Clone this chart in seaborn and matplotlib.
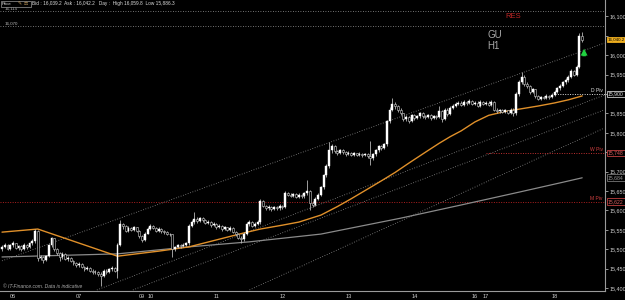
import matplotlib
matplotlib.use("Agg")
import matplotlib.pyplot as plt
import matplotlib.transforms as mtransforms
from matplotlib.patches import Rectangle
import numpy as np
import pandas as pd
import seaborn as sns

# ---------------- data (H1 candles, GBPUSD shown as x10000) ----------------
first_open = 15500
closes = [15505, 15512, 15500, 15510, 15515, 15503, 15508, 15500, 15512, 15505,
          15515, 15520, 15548, 15478, 15480, 15472, 15482, 15510, 15528, 15500,
          15490, 15480, 15488, 15475, 15478, 15470, 15465, 15460, 15462, 15455,
          15450, 15452, 15445, 15440, 15442, 15436, 15430, 15445, 15440, 15448,
          15452, 15445, 15512, 15565, 15560, 15548, 15555, 15550, 15556, 15548,
          15535, 15525, 15540, 15552, 15560, 15555, 15548, 15552, 15546, 15545,
          15540, 15538, 15500, 15505, 15510, 15508, 15512, 15515, 15560, 15570,
          15578, 15572, 15580, 15575, 15568, 15570, 15562, 15565, 15557, 15560,
          15552, 15556, 15550, 15555, 15545, 15538, 15530, 15526, 15540, 15565,
          15570, 15560, 15565, 15570, 15625, 15612, 15605, 15610, 15603, 15608,
          15605, 15612, 15608, 15645, 15640, 15638, 15642, 15635, 15640, 15636,
          15644, 15650, 15620, 15615, 15630, 15640, 15660, 15690, 15715, 15755,
          15765, 15752, 15748, 15755, 15750, 15745, 15748, 15744, 15747, 15743,
          15746, 15742, 15745, 15740, 15735, 15745, 15755, 15765, 15760, 15770,
          15830, 15860, 15875, 15868, 15860, 15850, 15835, 15840, 15830, 15845,
          15838, 15842, 15850, 15843, 15840, 15845, 15838, 15842, 15840, 15855,
          15835, 15860, 15848, 15865, 15870, 15875, 15878, 15872, 15880, 15876,
          15882, 15875, 15878, 15870, 15880, 15875, 15878, 15872, 15880, 15860,
          15855, 15858, 15854, 15858, 15852, 15860, 15850, 15900, 15930, 15945,
          15925, 15920, 15905, 15912, 15895, 15888, 15892, 15890, 15895, 15892,
          15898, 15905, 15915, 15920, 15930, 15935, 15945, 15960, 15950, 15970,
          16050, 16040]
highs = [15512, 15516, 15514, 15513, 15520, 15517, 15512, 15510, 15516, 15514,
         15519, 15526, 15552, 15550, 15486, 15483, 15486, 15513, 15532, 15530,
         15503, 15493, 15492, 15490, 15482, 15480, 15473, 15468, 15466, 15465,
         15458, 15456, 15455, 15448, 15446, 15445, 15440, 15449, 15448, 15452,
         15456, 15455, 15516, 15575, 15568, 15562, 15559, 15558, 15560, 15558,
         15550, 15537, 15544, 15556, 15566, 15562, 15558, 15556, 15554, 15550,
         15548, 15543, 15540, 15509, 15514, 15513, 15516, 15519, 15564, 15575,
         15596, 15582, 15584, 15583, 15578, 15574, 15572, 15569, 15567, 15564,
         15562, 15560, 15558, 15559, 15557, 15548, 15541, 15534, 15544, 15569,
         15576, 15573, 15569, 15575, 15630, 15628, 15615, 15614, 15612, 15612,
         15611, 15616, 15615, 15650, 15648, 15644, 15646, 15645, 15644, 15643,
         15648, 15678, 15652, 15624, 15634, 15644, 15664, 15694, 15720, 15775,
         15772, 15768, 15756, 15759, 15758, 15753, 15752, 15750, 15751, 15749,
         15750, 15748, 15749, 15747, 15780, 15749, 15759, 15769, 15768, 15774,
         15834, 15866, 15890, 15880, 15871, 15863, 15852, 15845, 15843, 15849,
         15848, 15846, 15854, 15853, 15846, 15849, 15848, 15846, 15845, 15868,
         15858, 15864, 15863, 15869, 15875, 15880, 15883, 15881, 15884, 15883,
         15886, 15885, 15882, 15881, 15884, 15883, 15882, 15881, 15885, 15882,
         15863, 15862, 15861, 15862, 15860, 15864, 15863, 15904, 15935, 15957,
         15948, 15930, 15923, 15916, 15914, 15898, 15896, 15895, 15899, 15898,
         15902, 15909, 15919, 15925, 15934, 15940, 15949, 15965, 15963, 15974,
         16058, 16060]
lows = [15496, 15502, 15497, 15498, 15506, 15500, 15499, 15496, 15498, 15501,
        15503, 15512, 15516, 15470, 15472, 15465, 15469, 15479, 15505, 15496,
        15485, 15470, 15476, 15471, 15470, 15466, 15460, 15455, 15455, 15451,
        15445, 15446, 15441, 15436, 15435, 15431, 15405, 15428, 15436, 15438,
        15445, 15440, 15426, 15508, 15552, 15544, 15545, 15546, 15548, 15544,
        15530, 15518, 15522, 15538, 15550, 15551, 15544, 15545, 15542, 15540,
        15536, 15533, 15480, 15495, 15502, 15503, 15505, 15508, 15512, 15556,
        15566, 15568, 15570, 15571, 15564, 15565, 15558, 15559, 15553, 15554,
        15548, 15549, 15546, 15547, 15541, 15534, 15526, 15516, 15522, 15537,
        15561, 15556, 15557, 15562, 15566, 15608, 15600, 15601, 15599, 15600,
        15601, 15602, 15604, 15605, 15636, 15634, 15635, 15631, 15632, 15632,
        15633, 15640, 15600, 15608, 15612, 15627, 15637, 15656, 15686, 15710,
        15748, 15748, 15744, 15745, 15746, 15741, 15742, 15740, 15741, 15739,
        15740, 15738, 15739, 15736, 15717, 15731, 15741, 15751, 15755, 15757,
        15766, 15826, 15855, 15862, 15854, 15845, 15830, 15831, 15826, 15827,
        15834, 15835, 15839, 15839, 15836, 15837, 15834, 15835, 15836, 15837,
        15828, 15832, 15844, 15845, 15861, 15866, 15871, 15868, 15869, 15872,
        15873, 15871, 15871, 15866, 15867, 15871, 15872, 15868, 15869, 15856,
        15850, 15851, 15850, 15851, 15848, 15849, 15842, 15847, 15896, 15926,
        15920, 15915, 15900, 15902, 15890, 15884, 15885, 15886, 15887, 15888,
        15889, 15895, 15902, 15911, 15917, 15927, 15931, 15942, 15946, 15947,
        15966, 16035]

# moving averages, read at a few bars
ma_fast_bar = [0, 13, 42, 50, 57, 68, 78, 88, 94, 102, 108, 116, 122, 127, 132, 137,
               143, 148, 154, 159, 163, 167, 172, 177, 183, 189, 195, 201, 206, 211]
ma_fast_val = [15544, 15552, 15482, 15489, 15495, 15506, 15524, 15542, 15552, 15562,
               15570, 15588, 15610, 15630, 15651, 15672, 15698, 15722, 15750, 15773,
               15790, 15805, 15828, 15845, 15855, 15862, 15869, 15877, 15885, 15895]
ma_slow_bar = [0, 42, 68, 90, 116, 145, 167, 188, 203, 211]
ma_slow_val = [15480, 15488, 15506, 15519, 15539, 15580, 15614, 15647, 15671, 15684]

# channel lines (bar, price) -> (bar, price)
chan_start_bar = [0, 34.5, 47.6, 90]
chan_start_val = [15470, 15395, 15395, 15395]
chan_end_bar = [219, 219, 219, 219]
chan_end_val = [16031, 15897, 15859, 15812]

# pivots / levels
m_piv, w_piv, d_piv = 15622, 15748, 15900
w_piv_from, d_piv_from = 176, 201
top_levels = [16115, 16075]
top_level_labels = ["16,115", "16,070"]
grey_ma_label = "15,684"
last_price_label = "16,040.2"

day_pos = [4, 28, 51, 54, 78, 102, 126, 150, 172, 176, 201]
day_lbl = ["06", "07", "09", "10", "11", "12", "13", "14", "16", "17", "18"]
yticks = list(range(15400, 16101, 50))
hidden_ticks = [16050, 15900, 15750]   # covered by the value boxes

# ---------------- drawing ----------------
sns.set_style("dark")
plt.rcParams["font.family"] = ["Liberation Sans", "DejaVu Sans"]

fig = plt.figure(figsize=(6.25, 3.0), dpi=100, facecolor="black")
ax = fig.add_axes([0, 9 / 300, 605 / 625, 291 / 300])
ax.set_facecolor("black")

n = len(closes)
idx = np.arange(n)
opens = [first_open] + closes[:-1]
df = pd.DataFrame({"bar": idx, "open": opens, "close": closes, "high": highs, "low": lows})
up = df["close"] >= df["open"]

ax.vlines(df["bar"], df["low"], df["high"], color="#b8b8b8", lw=0.6, zorder=3)
body_lo = df[["open", "close"]].min(axis=1)
body_h = (df["close"] - df["open"]).abs().clip(lower=1.5)
ax.bar(df["bar"][up], body_h[up], bottom=body_lo[up], width=0.72,
       color="white", edgecolor="white", lw=0.3, zorder=4)
ax.bar(df["bar"][~up], body_h[~up], bottom=body_lo[~up], width=0.72,
       color="black", edgecolor="#d0d0d0", lw=0.4, zorder=4)

fast = pd.DataFrame({"bar": ma_fast_bar, "val": ma_fast_val})
slow = pd.DataFrame({"bar": ma_slow_bar, "val": ma_slow_val})
sns.lineplot(data=slow, x="bar", y="val", ax=ax, color="#8a8a8a", lw=0.9, zorder=2)
sns.lineplot(data=fast, x="bar", y="val", ax=ax, color="#e0902a", lw=1.0, zorder=2)

for b0, v0, b1, v1 in zip(chan_start_bar, chan_start_val, chan_end_bar, chan_end_val):
    ax.plot([b0, b1], [v0, v1], color="#8c8c8c", lw=0.6, ls=(0, (1, 2)), zorder=1)

for lv in top_levels:
    ax.axhline(lv, color="#9a9a9a", lw=0.6, ls=(0, (1, 2)), zorder=1)
ax.axhline(m_piv, color="#b02020", lw=0.7, ls=(0, (1, 1.5)), zorder=1)
ax.plot([w_piv_from, 219.3], [w_piv, w_piv], color="#c03030", lw=0.7, ls=(0, (1, 1.5)), zorder=1)
ax.plot([d_piv_from, 219.3], [d_piv, d_piv], color="#dddddd", lw=0.7, ls=(0, (1, 1.5)), zorder=1)

ax.set_xlim(-0.73, 219.3)
ax.set_ylim(15392.3, 16142.2)
ax.set_xlabel("")
ax.set_ylabel("")
ax.grid(False)

ax.yaxis.tick_right()
ax.set_yticks(yticks)
ax.set_yticklabels(["" if v in hidden_ticks else f"{v:,}" for v in yticks])
ax.tick_params(axis="y", colors="#cfcfcf", labelsize=3.9, length=2, width=0.5, pad=1)
ax.set_xticks(day_pos)
ax.set_xticklabels(day_lbl)
ax.tick_params(axis="x", colors="#cfcfcf", labelsize=4.0, length=2, width=0.5, pad=0.5)
for s in ["top", "left"]:
    ax.spines[s].set_visible(False)
for s in ["right", "bottom"]:
    ax.spines[s].set_visible(True)
    ax.spines[s].set_color("#9a9a9a")
    ax.spines[s].set_linewidth(0.8)

# right axis boxes
tr = mtransforms.blended_transform_factory(ax.transAxes, ax.transData)
def box(val, txt, fc, ec, tc, fs=3.7):
    ax.text(1.005, val, txt, transform=tr, fontsize=fs, color=tc, va="center", ha="left",
            bbox=dict(boxstyle="square,pad=0.18", fc=fc, ec=ec, lw=0.6), zorder=10, clip_on=False)
box(closes[-1], last_price_label, "#f0b020", "#f0b020", "black", fs=3.2)
box(d_piv, f"{d_piv:,}", "black", "#cccccc", "#dddddd")
box(w_piv, f"{w_piv:,}", "black", "#c04040", "#dd6060")
box(ma_slow_val[-1], grey_ma_label, "black", "#777777", "#999999")
box(m_piv, f"{m_piv:,}", "black", "#c04040", "#dd6060")

ax.text(218.5, d_piv + 3, "D Piv", fontsize=3.6, color="#dddddd", ha="right", va="bottom")
ax.text(218.5, w_piv + 3, "W Piv", fontsize=3.6, color="#d04040", ha="right", va="bottom")
ax.text(218.5, m_piv + 3, "M Piv", fontsize=3.6, color="#d04040", ha="right", va="bottom")
for lv, lb in zip(top_levels, top_level_labels):
    ax.text(1, lv + 1, lb, fontsize=3.2, color="#bbbbbb", ha="left", va="bottom")

# green up arrow
ax.annotate("", xy=(211.7, 16024), xytext=(211.7, 15990),
            arrowprops=dict(arrowstyle="simple,head_width=0.5,head_length=0.5,tail_width=0.25",
                            color="#20d040", lw=0))

fig.text(513 / 625, 1 - 17 / 300, "RES", color="#c02828", fontsize=5.5, ha="center", va="center")
fig.text(487 / 625, 1 - 35 / 300, "GU", color="#a8a8a8", fontsize=7, ha="left", va="center")
fig.text(487 / 625, 1 - 46 / 300, "H1", color="#a8a8a8", fontsize=7, ha="left", va="center")
fig.text(3 / 625, 1 - 286 / 300, "\u00a9 IT-Finance.com. Data is indicative", color="#aaaaaa",
         fontsize=3.6, style="italic", ha="left", va="center")
fig.patches.append(Rectangle((0.5 / 625, 1 - 7 / 300), 30 / 625, 6.5 / 300, transform=fig.transFigure,
                             fc="black", ec="#999999", lw=0.5, zorder=5))
fig.text(1.5 / 625, 1 - 3.8 / 300, "Price", color="#dddddd", fontsize=3.2, ha="left", va="center", zorder=6)
fig.text(17.5 / 625, 1 - 3.8 / 300, "\u270e", color="#c8a060", fontsize=3.4, ha="left", va="center",
         family="DejaVu Sans", zorder=6)
fig.text(24 / 625, 1 - 3.8 / 300, "\u2696", color="#c8a060", fontsize=3.4, ha="left", va="center",
         family="DejaVu Sans", zorder=6)
fig.text(32 / 625, 1 - 3.8 / 300,
         "Bid : 16,039.2  Ask : 16,042.2   Day :  High 16,059.8  Low 15,886.3",
         color="#dddddd", fontsize=3.4, ha="left", va="center")

fig.savefig("out.png", dpi=100, facecolor="black")
